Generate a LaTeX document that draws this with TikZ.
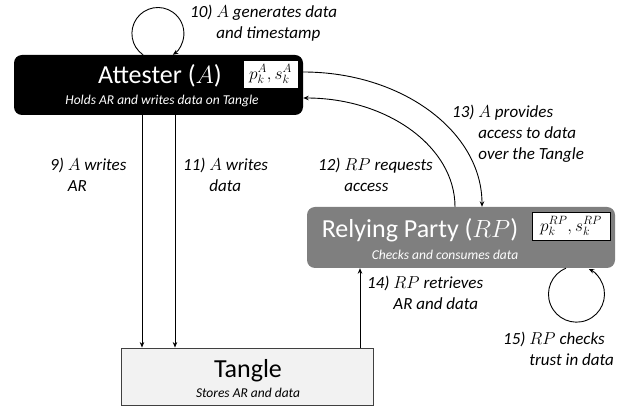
\documentclass[tikz,border=0pt]{standalone}
\usepackage[no-math]{fontspec}
\setmainfont{Carlito}
\usetikzlibrary{arrows.meta}
\definecolor{rpgray}{RGB}{127,127,127}
\definecolor{tanglefill}{RGB}{242,242,242}
\newcommand{\numlbl}[2]{\begin{tabular}{@{}l@{\ }l@{}}#1 & #2\end{tabular}}
\tikzset{
  arr/.style={-{Stealth[length=5.5pt,width=4.5pt]}, line width=0.9pt},
  party/.style={rounded corners=8pt},
  title/.style={text=white, font=\fontsize{26}{30}\selectfont},
  sub/.style={text=white, font=\fontsize{13.5}{16}\selectfont\itshape},
  key/.style={draw=black, line width=0.6pt, fill=white, font=\fontsize{17}{20}\selectfont},
  lbl/.style={anchor=west, font=\fontsize{17}{21}\selectfont\itshape}
}
\begin{document}
\begin{tikzpicture}[x=1pt,y=1pt]
\tikzstyle{every node}+=[inner sep=0pt]
\useasboundingbox (0,0) rectangle (638,-411);
% attester
\node [party, fill=black, minimum width=289, minimum height=60] (attester) at (158.5,-85) {};
\node [title] (attname) at (160,-76) {Attester ($A$)};
\node [sub] (attsub) at (162,-101) {Holds AR and writes data on Tangle};
\node [key, minimum width=55, minimum height=28] (attkey) at (270.5,-74) {$p_k^A, s_k^A$};
% relying party
\node [party, fill=rpgray, minimum width=308, minimum height=61] (rp) at (461,-237.5) {};
\node [title] (rpname) at (420,-230) {Relying Party ($RP$)};
\node [sub] (rpsub) at (445,-255) {Checks and consumes data};
\node [key, minimum width=78, minimum height=28] (rpkey) at (571,-226) {$p_k^{RP}, s_k^{RP}$};
% tangle
\node [draw=black!75, line width=0.9pt, fill=tanglefill, minimum width=252, minimum height=57] (tangle) at (247,-376.5) {};
\node [title, text=black] (tname) at (248,-371) {Tangle};
\node [sub, text=black] (tsub) at (248,-393) {Stores AR and data};
% connectors
\coordinate (c9) at (142,0);
\coordinate (c10) at (143,0);
\coordinate (c11) at (175,0);
\coordinate (c12) at (455,-98);
\coordinate (c13) at (482,-72);
\coordinate (c14) at (360,0);
\coordinate (c15) at (566,0);
\draw [arr] (attester.south -| c9) -- (tangle.north -| c9);
\draw [arr] (attester.south -| c11) -- (tangle.north -| c11);
\draw [arr] (tangle.north -| c14) -- (rp.south -| c14);
\draw [arr] (attester.north -| c10) arc [start angle=235, end angle=-55, radius=26];
\draw [arr] (rp.south -| c15) arc [start angle=112, end angle=424, radius=28];
\draw [arr] (attester.east |- c13) .. controls +(99,0) and +(0,75) .. (rp.north -| c13);
\draw [arr] (rp.north -| c12) .. controls +(0,60) and +(84,0) .. (attester.east |- c12);
% labels
\node [lbl] (l9) at (50,-177) {\numlbl{9)}{$A$ writes\\ & AR}};
\node [lbl] (l10) at (190,-24) {\numlbl{10)}{$A$ generates data\\ & and timestamp}};
\node [lbl] (l11) at (183,-177) {\numlbl{11)}{$A$ writes\\ & data}};
\node [lbl] (l12) at (318,-177) {\numlbl{12)}{$RP$ requests\\ & access}};
\node [lbl] (l13) at (452,-134) {\numlbl{13)}{$A$ provides\\ & access to data\\ & over the Tangle}};
\node [lbl] (l14) at (367,-295) {\numlbl{14)}{$RP$ retrieves\\ & AR and data}};
\node [lbl] (l15) at (503,-351) {\numlbl{15)}{$RP$ checks\\ & trust in data}};
\end{tikzpicture}
\end{document}
